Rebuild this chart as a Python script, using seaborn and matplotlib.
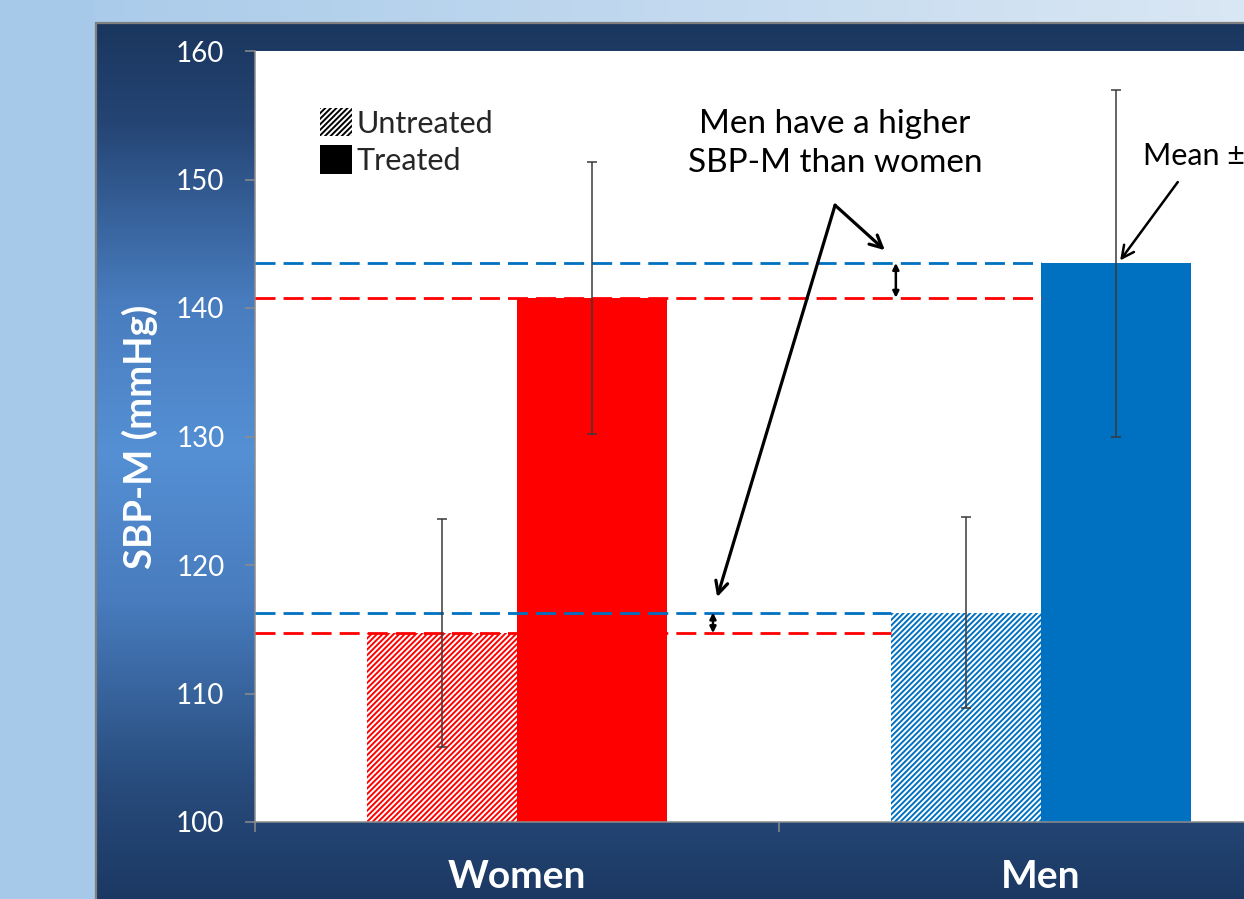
import numpy as np
import pandas as pd
import matplotlib
matplotlib.use("Agg")
import matplotlib.pyplot as plt
import seaborn as sns
from matplotlib.patches import Patch

# ---- data -------------------------------------------------------------
sexes = ["Women", "Women", "Men", "Men"]
treatment = ["Untreated", "Treated", "Untreated", "Treated"]
sbp_mean = [114.7, 140.8, 116.3, 143.5]
sbp_sd = [8.9, 10.6, 7.4, 13.5]

sex_order = ["Women", "Men"]
treat_order = ["Untreated", "Treated"]
sex_colors = {"Women": "#FF0000", "Men": "#0070C0"}
y_ticks = [100, 110, 120, 130, 140, 150, 160]

df = pd.DataFrame({"sex": sexes, "treatment": treatment,
                   "sbp": sbp_mean, "sd": sbp_sd})

# ---- style ------------------------------------------------------------
sns.set_style("ticks")
plt.rcParams["font.family"] = ["Lato", "DejaVu Sans"]
plt.rcParams["hatch.linewidth"] = 1.4

W, H = 1244, 899
fig = plt.figure(figsize=(W / 100, H / 100), dpi=100)

# ---- slide-style background --------------------------------------------
ax_bg = fig.add_axes([0, 0, 1, 1], zorder=-5)
img = np.zeros((H, W, 3))
rows = np.arange(H)
anchors_y = [22, 120, 300, 450, 600, 780, 899]
anchors_c = np.array([(26, 54, 94), (36, 68, 115), (72, 124, 190),
                      (85, 144, 212), (72, 124, 190), (40, 76, 125),
                      (27, 56, 98)]) / 255.0
for c in range(3):
    img[:, :, c] = np.interp(rows, anchors_y, anchors_c[:, c])[:, None]
light_left = np.array((166, 201, 233)) / 255.0
light_right = np.array((218, 231, 244)) / 255.0
cols = np.arange(W) / (W - 1)
img[:22, :, :] = light_left[None, None, :] + (light_right - light_left)[None, None, :] * cols[None, :, None]
img[:, :95, :] = light_left
ax_bg.imshow(img, extent=(0, W, H, 0), aspect="auto", interpolation="bilinear")
ax_bg.plot([95.5, 95.5, W], [H, 22.5, 22.5], color="#7f7f7f", lw=1.6)
ax_bg.set_xlim(0, W)
ax_bg.set_ylim(H, 0)
ax_bg.axis("off")

# ---- main chart ---------------------------------------------------------
ax = fig.add_axes([255 / W, 1 - 822 / H, 1048 / W, 771 / H], zorder=1)
ax.set_facecolor("white")

sns.barplot(data=df, x="sex", y="sbp", hue="treatment", order=sex_order,
            hue_order=treat_order, width=0.573, gap=0, errorbar=None,
            legend=False, ax=ax)

bar_info = {}
for t, cont in zip(treat_order, ax.containers):
    for s, patch in zip(sex_order, cont.patches):
        color = sex_colors[s]
        if t == "Untreated":
            patch.set_facecolor("white")
            patch.set_edgecolor(color)
            patch.set_hatch("//////")
            patch.set_linewidth(0)
        else:
            patch.set_facecolor(color)
            patch.set_edgecolor(color)
            patch.set_linewidth(0)
        bar_info[(s, t)] = patch

# error bars (mean ± SD)
for s, t, m, sd in zip(sexes, treatment, sbp_mean, sbp_sd):
    p = bar_info[(s, t)]
    cx = p.get_x() + p.get_width() / 2
    ax.errorbar(cx, m, yerr=sd, fmt="none", ecolor="#3a3a3a",
                elinewidth=1.1, capsize=3.8, capthick=1.1, zorder=4)

# dashed reference levels from the axis to each bar
dash = (0, (7.2, 2.9))
for s, t, m in zip(sexes, treatment, sbp_mean):
    # lines run to the left edge of the Men bar of the same group
    end = bar_info[("Men", t)].get_x()
    ax.hlines(m, -0.5, end, colors=sex_colors[s], linestyles=dash,
              lw=2.0, zorder=3)

ax.set_xlim(-0.5, 1.5)
ax.set_ylim(100, 160)
ax.set_yticks(y_ticks)
ax.set_xlabel("")
ax.set_ylabel("")

# axis styling
for side in ["top", "right"]:
    ax.spines[side].set_visible(False)
for side in ["left", "bottom"]:
    ax.spines[side].set_color("#8c8c8c")
    ax.spines[side].set_linewidth(1.1)
ax.tick_params(axis="y", colors="#8c8c8c", length=7, width=1.1,
               labelcolor="white", labelsize=20, pad=15)
ax.set_xticks([-0.5, 0.5, 1.5], minor=True)
ax.tick_params(axis="x", which="minor", length=7, width=1.1, colors="#8c8c8c")
ax.tick_params(axis="x", which="major", length=0, pad=27,
               labelcolor="white", labelsize=28)
for lbl in ax.get_xticklabels():
    lbl.set_fontweight("bold")

fig.text(140 / W, 1 - 437 / H, "SBP-M (mmHg)", rotation=90, color="white",
         fontsize=27.5, fontweight="bold", ha="center", va="center")

# legend
handles = [Patch(facecolor="white", edgecolor="black", hatch="//////", lw=0),
           Patch(facecolor="black", edgecolor="black", lw=0)]
ax.legend(handles, treat_order, loc="upper left",
          bbox_to_anchor=(0.062, 0.926), frameon=False, fontsize=22,
          handlelength=1.05, handleheight=1.05, handletextpad=0.15,
          labelspacing=0.25, borderpad=0, borderaxespad=0)

# annotations
ax.text(0.607, 152.8, "Men have a higher\nSBP-M than women", fontsize=24,
        ha="center", va="center", linespacing=1.4, color="black")
arrow_kw = dict(arrowstyle="->", lw=2.3, color="black", shrinkA=0, shrinkB=0,
                mutation_scale=22)
ax.annotate("", xy=(0.702, 144.5), xytext=(0.607, 148.0), arrowprops=arrow_kw)
ax.annotate("", xy=(0.382, 117.5), xytext=(0.607, 148.0), arrowprops=arrow_kw)

ax.text(1.195, 151.8, "Mean ± SD", fontsize=22, ha="left", va="center",
        color="black", clip_on=False)
ax.annotate("", xy=(1.151, 143.7), xytext=(1.261, 149.8),
            arrowprops=dict(arrowstyle="->", lw=1.8, color="black",
                            shrinkA=0, shrinkB=0, mutation_scale=22))

# small double arrows marking the gaps between sexes
dbl_kw = dict(arrowstyle="<|-|>", lw=1.8, color="black", shrinkA=0,
              shrinkB=0, mutation_scale=9)
ax.annotate("", xy=(0.723, sbp_mean[3]), xytext=(0.723, sbp_mean[1]),
            arrowprops=dbl_kw)
ax.annotate("", xy=(0.374, sbp_mean[2]), xytext=(0.374, sbp_mean[0]),
            arrowprops=dbl_kw)

fig.savefig("out.png", dpi=100)
